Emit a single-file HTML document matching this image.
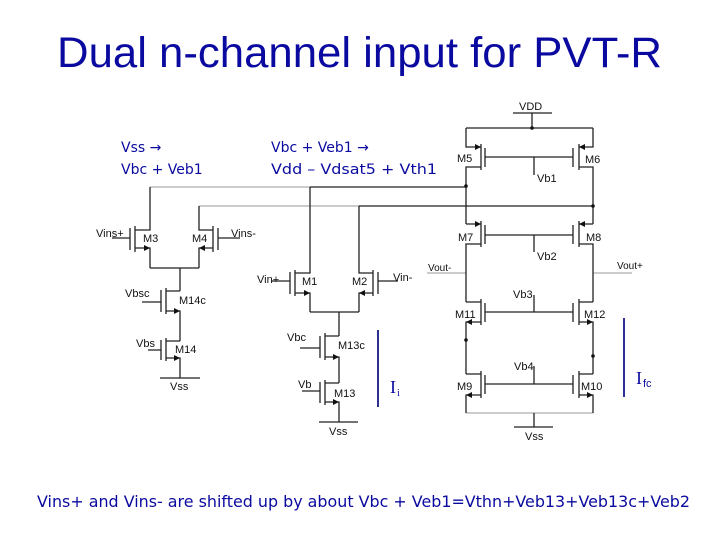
<!DOCTYPE html>
<html><head><meta charset="utf-8"><style>
html,body{margin:0;padding:0;background:#fff;}
svg{display:block;}
</style></head><body>
<svg width="720" height="540" viewBox="0 0 720 540" xmlns="http://www.w3.org/2000/svg">
<rect width="720" height="540" fill="#fff"/>
<text x="57" y="67" font-family="Liberation Sans, sans-serif" font-size="43" fill="#0a0aa0" textLength="605" lengthAdjust="spacingAndGlyphs">Dual n-channel input for PVT-R</text>
<g font-family="DejaVu Sans, Liberation Sans, sans-serif" font-size="14" fill="#0a0aa0">
<text x="121" y="152">Vss →</text>
<text x="121" y="174">Vbc + Veb1</text>
<text x="271" y="152">Vbc + Veb1 →</text>
<text x="271" y="174" textLength="166" lengthAdjust="spacingAndGlyphs">Vdd – Vdsat5 + Vth1</text>
<text x="37" y="507" font-size="16" textLength="653" lengthAdjust="spacingAndGlyphs">Vins+ and Vins- are shifted up by about Vbc + Veb1=Vthn+Veb13+Veb13c+Veb2</text>
</g>
<!-- thin wires -->
<g stroke="#999" stroke-width="1" fill="none">
<path d="M150 187 H310"/>
<path d="M199 206 H359"/>
<path d="M427 273 H466 M593 273 H632"/>
<path d="M466 413 H593"/>
</g>
<g stroke="#222" stroke-width="1.3" fill="none">
<!-- thick bus -->
<path d="M310 187 H467 M359 206 H593"/>
<!-- VDD -->
<path d="M513 113 H552 M532 113 V128 M466 128 H593"/>
<!-- M3 -->
<path d="M150 187 V230 H135 M135 226 V252 M135 248 H150 V268 M130 228 V250 M112 238 H130"/>
<!-- M4 -->
<path d="M199 206 V230 H213 M213 226 V252 M213 248 H199 V268 M218 228 V250 M218 238 H240"/>
<path d="M150 268 H199 M180 268 V291"/>
<!-- M14c -->
<path d="M180 291 H166 M166 288 V314 M166 311 H180 V341 M161 290 V312 M142 302 H161"/>
<!-- M14 -->
<path d="M180 341 H166 M166 338 V361 M166 358 H180 V378 M161 340 V360 M148 350 H161 M160 378 H200"/>
<!-- M1 -->
<path d="M310 187 V273 H295 M295 270 V296 M295 293 H310 V312 M290 272 V294 M272 281 H290"/>
<!-- M2 -->
<path d="M359 206 V273 H373 M373 270 V296 M373 293 H359 V312 M378 272 V294 M378 281 H398"/>
<path d="M310 312 H359 M339 312 V336"/>
<!-- M13c -->
<path d="M339 336 H325 M325 333 V360 M325 357 H339 V383 M320 336 V358 M300 348 H320"/>
<!-- M13 -->
<path d="M339 383 H325 M325 380 V405 M325 402 H339 V422 M320 382 V403 M302 391 H320 M319 422 H358"/>
<!-- right cascode -->
<!-- M5 -->
<path d="M466 128 V147 H481 M481 144 V170 M481 167 H466 V224 M485 148 V167"/>
<!-- M6 -->
<path d="M593 128 V147 H579 M579 144 V170 M579 167 H593 V224 M573 148 V167"/>
<path d="M485 157 H573 M534 157 V175"/>
<!-- M7 -->
<path d="M466 224 H481 M481 221 V247 M481 244 H466 V302 M485 225 V244"/>
<!-- M8 -->
<path d="M593 224 H579 M579 221 V247 M579 244 H593 V302 M573 225 V244"/>
<path d="M485 235 H573 M534 235 V252"/>
<!-- M11 -->
<path d="M466 302 H481 M481 299 V325 M481 322 H466 V374 M485 303 V322"/>
<!-- M12 -->
<path d="M593 302 H579 M579 299 V325 M579 322 H593 V374 M573 303 V322"/>
<path d="M485 312 H573 M534 312 V295"/>
<!-- M9 -->
<path d="M466 374 H481 M481 371 V398 M481 395 H466 V413 M485 375 V394"/>
<!-- M10 -->
<path d="M593 374 H579 M579 371 V398 M579 395 H593 V413 M573 375 V394"/>
<path d="M485 384 H573 M534 384 V366"/>
<path d="M534 413 V427 M514 427 H553"/>
</g>
<!-- dots and arrows -->
<g fill="#111">
<circle cx="532" cy="128" r="1.8"/><circle cx="466" cy="186" r="1.8"/><circle cx="593" cy="206" r="1.8"/>
<circle cx="466" cy="340" r="1.8"/><circle cx="593" cy="356" r="1.8"/>
<polygon points="150,248 144,245 144,251"/>
<polygon points="199,248 205,245 205,251"/>
<polygon points="180,311 174,308 174,314"/>
<polygon points="180,358 174,355 174,361"/>
<polygon points="310,293 304,290 304,296"/>
<polygon points="359,293 365,290 365,296"/>
<polygon points="339,357 333,354 333,360"/>
<polygon points="339,402 333,399 333,405"/>
<polygon points="481,147 475,144 475,150"/>
<polygon points="579,147 585,144 585,150"/>
<polygon points="481,224 475,221 475,227"/>
<polygon points="579,224 585,221 585,227"/>
<polygon points="466,322 472,319 472,325"/>
<polygon points="593,322 587,319 587,325"/>
<polygon points="466,395 472,392 472,398"/>
<polygon points="593,395 587,392 587,398"/>
</g>
<g font-family="Liberation Sans, sans-serif" font-size="11" fill="#111">
<text x="96" y="237">Vins+</text><text x="143" y="242">M3</text><text x="192" y="242">M4</text><text x="231" y="237">Vins-</text>
<text x="125" y="297">Vbsc</text><text x="179" y="304">M14c</text>
<text x="136" y="347">Vbs</text><text x="175" y="353">M14</text>
<text x="170" y="390">Vss</text>
<text x="257" y="283">Vin+</text><text x="302" y="285">M1</text><text x="352" y="285">M2</text><text x="393" y="281">Vin-</text>
<text x="287" y="341">Vbc</text><text x="338" y="349">M13c</text>
<text x="298" y="388">Vb</text><text x="334" y="397">M13</text>
<text x="329" y="435">Vss</text>
<text x="519" y="110">VDD</text>
<text x="457" y="162">M5</text><text x="585" y="163">M6</text><text x="537" y="182">Vb1</text>
<text x="458" y="241">M7</text><text x="586" y="241">M8</text><text x="537" y="260">Vb2</text>
<text x="428" y="271" font-size="10">Vout-</text><text x="617" y="269" font-size="10">Vout+</text>
<text x="513" y="298">Vb3</text><text x="455" y="318">M11</text><text x="584" y="318">M12</text>
<text x="514" y="370">Vb4</text><text x="457" y="390">M9</text><text x="581" y="390">M10</text>
<text x="525" y="440">Vss</text>
</g>
<!-- current arrows -->
<g stroke="#2e3192" stroke-width="2" fill="#2e3192">
<path d="M378 330 V407"/><path d="M624 318 V397"/>
</g>
<g fill="#0a0aa0" font-family="Liberation Serif, serif">
<text x="390" y="393" font-size="18">I</text><text x="397" y="396" font-size="10">i</text>
<text x="636" y="384" font-size="18">I</text><text x="643" y="387" font-size="11" font-family="Liberation Sans, sans-serif">fc</text>
</g>
</svg>
</body></html>
